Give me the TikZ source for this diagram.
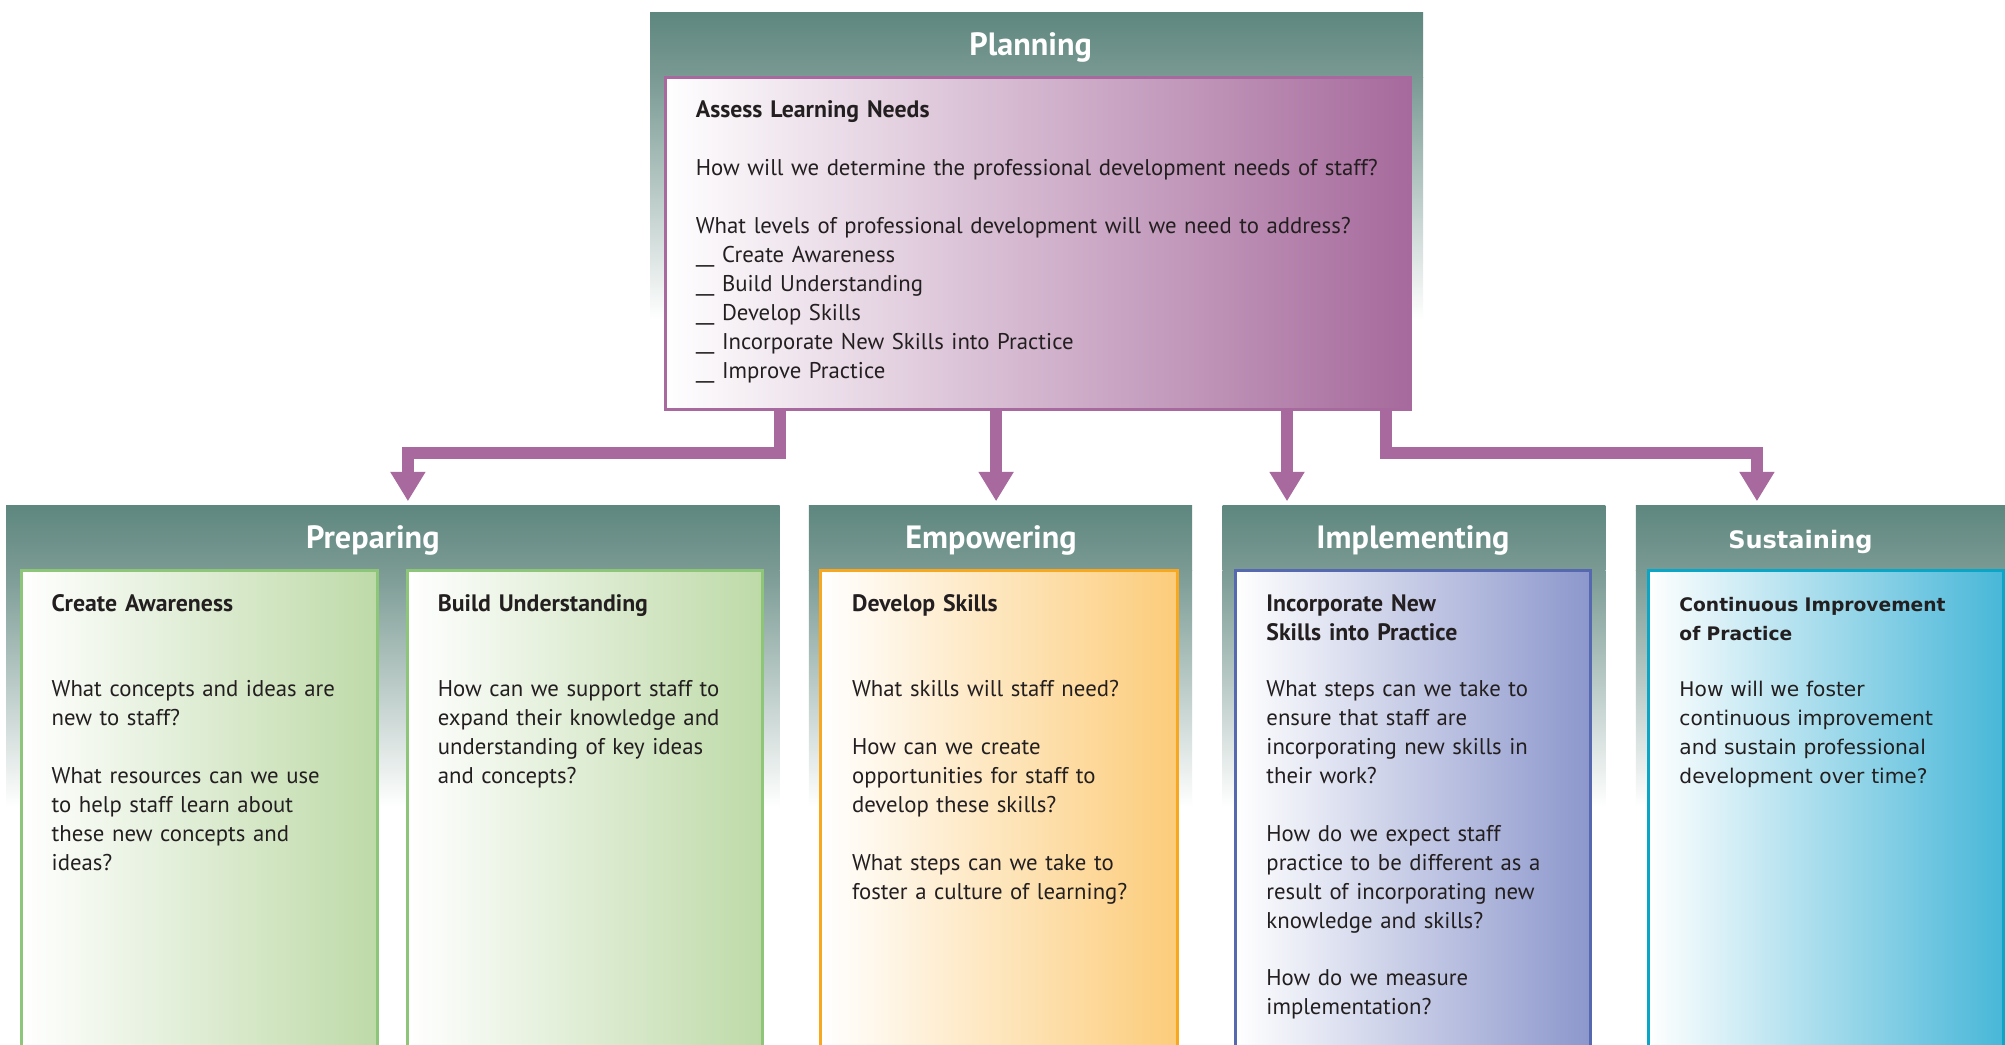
\documentclass[tikz,border=0pt]{standalone}
\usepackage{fontspec}
\setmainfont{PT Sans}
\newfontfamily\lucida{DejaVu Sans}
\usetikzlibrary{arrows.meta}
\definecolor{teal1}{RGB}{94,135,127}
\definecolor{teal2}{RGB}{122,154,147}
\definecolor{arrowpurple}{RGB}{168,106,158}
\definecolor{purpleR}{RGB}{166,106,156}
\definecolor{greenB}{RGB}{141,198,120}
\definecolor{greenR}{RGB}{190,218,168}
\definecolor{orangeB}{RGB}{247,168,30}
\definecolor{orangeR}{RGB}{252,204,122}
\definecolor{blueB}{RGB}{86,104,176}
\definecolor{blueR}{RGB}{140,151,204}
\definecolor{cyanB}{RGB}{10,166,200}
\definecolor{cyanR}{RGB}{72,183,216}
\definecolor{txt}{RGB}{35,31,32}
\begin{document}
\begin{tikzpicture}[x=0.5pt,y=-0.5pt,
  hdrtop/.style={top color=teal1,bottom color=teal2,draw=none},
  hdrfade/.style={top color=teal2,bottom color=white,draw=none},
  hdrtitle/.style={text=white,font=\bfseries\fontsize{12.6}{15}\selectfont,anchor=base,inner sep=0pt},
  boxnode/.style={line width=1.2pt,anchor=north west,inner sep=0pt,outer sep=0pt,left color=white},
  btitle/.style={anchor=base west,inner sep=0pt,align=left,text width=150pt,text=txt,font=\bfseries\fontsize{9.3}{11.3}\selectfont},
  btext/.style={anchor=base west,inner sep=0pt,align=left,text width=150pt,text=txt,font=\fontsize{8.9}{11.3}\selectfont},
  conn/.style={draw=arrowpurple,line width=4.75pt,line join=miter,-{Triangle[width=13pt,length=11.5pt]}}
]
\useasboundingbox (0,0) rectangle (1568,817);
\clip (0,0) rectangle (1568,817);
\fill[white] (0,0) rectangle (1568,817);

% ---------- Planning ----------
\path[hdrtop] (508.4,10) rectangle (1113,61);
\path[hdrfade] (508.4,61) rectangle (1113,250);
\node[hdrtitle] (tplan) at (806,43.8) {Planning};
\node[boxnode,draw=arrowpurple,right color=purpleR,minimum width=291.5pt,minimum height=129.8pt] (plan) at (520.2,60.6) {};
\node[btitle,text width=290pt] (plant) at (543.8,91.7) {Assess Learning Needs};
\node[btext,text width=290pt] (planb) at (543.8,137.6) {How will we determine the professional development needs of staff?\\[11.3pt]
What levels of professional development will we need to address?\\
\_\_\ Create Awareness\\
\_\_\ Build Understanding\\
\_\_\ Develop Skills\\
\_\_\ Incorporate New Skills into Practice\\
\_\_\ Improve Practice};

% ---------- bottom headers ----------
\path[hdrtop] (4.8,395) rectangle (609.7,446);
\path[hdrfade] (4.8,446) rectangle (609.7,631);
\path[hdrtop] (632.6,395) rectangle (932.2,446);
\path[hdrfade] (632.6,446) rectangle (932.2,631);
\path[hdrtop] (956.1,395) rectangle (1255.5,446);
\path[hdrfade] (956.1,446) rectangle (1255.5,631);
\path[hdrtop] (1279.4,395) rectangle (1568,446);
\path[hdrfade] (1279.4,446) rectangle (1568,631);

\node[hdrtitle] (tprep) at (291.6,429) {Preparing};
\node[hdrtitle] (temp) at (775,429) {Empowering};
\node[hdrtitle] (timp) at (1105,429) {Implementing};
\node[hdrtitle,font=\lucida\bfseries\fontsize{9.4}{12}\selectfont] (tsus) at (1408,429) {Sustaining};

% ---------- boxes ----------
\node[boxnode,draw=greenB,right color=greenR,minimum width=139pt,minimum height=200pt] (ca) at (17,446) {};
\node[boxnode,draw=greenB,right color=greenR,minimum width=138.75pt,minimum height=200pt] (bu) at (319,446) {};
\node[boxnode,draw=orangeB,right color=orangeR,minimum width=139.5pt,minimum height=200pt] (ds) at (642,446) {};
\node[boxnode,draw=blueB,right color=blueR,minimum width=138.85pt,minimum height=200pt] (in) at (966.4,446) {};
\node[boxnode,draw=cyanB,right color=cyanR,minimum width=138.85pt,minimum height=200pt] (ci) at (1289,446) {};

% ---------- box texts ----------
\node[btitle] (cat) at (40,478.6) {Create Awareness};
\node[btext] (cab) at (40,545) {What concepts and ideas are\\new to staff?\\[11.3pt]What resources can we use\\to help staff learn about\\these new concepts and\\ideas?};

\node[btitle] (but) at (342,478.6) {Build Understanding};
\node[btext] (bub) at (342,545) {How can we support staff to\\expand their knowledge and\\understanding of key ideas\\and concepts?};

\node[btitle] (dst) at (666,478.6) {Develop Skills};
\node[btext] (dsb) at (666,545) {What skills will staff need?\\[11.3pt]How can we create\\opportunities for staff to\\develop these skills?\\[11.3pt]What steps can we take to\\foster a culture of learning?};

\node[btitle] (int) at (990,478.6) {Incorporate New\\Skills into Practice};
\node[btext] (inb) at (990,545) {What steps can we take to\\ensure that staff are\\incorporating new skills in\\their work?\\[11.3pt]How do we expect staff\\practice to be different as a\\result of incorporating new\\knowledge and skills?\\[11.3pt]How do we measure\\implementation?};

\node[btitle,font=\lucida\bfseries\fontsize{7.3}{11.3}\selectfont] (cit) at (1313,478.6) {Continuous Improvement\\of Practice};
\node[btext,font=\lucida\fontsize{7.9}{11.3}\selectfont] (cib) at (1313,545) {How will we foster\\continuous improvement\\and sustain professional\\development over time?};

% ---------- connectors ----------
\coordinate (bend1) at (610,354.5);
\coordinate (tip1) at (319,392);
\coordinate (tip2) at (779,392);
\coordinate (tip3) at (1006.5,392);
\coordinate (bend4) at (1084,354.5);
\coordinate (tip4) at (1374,392);
\draw[conn] (plan.south -| bend1) -- (bend1) -| (tip1);
\draw[conn] (plan.south -| tip2) -- (tip2);
\draw[conn] (plan.south -| tip3) -- (tip3);
\draw[conn] (plan.south -| bend4) -- (bend4) -| (tip4);
\end{tikzpicture}
\end{document}
